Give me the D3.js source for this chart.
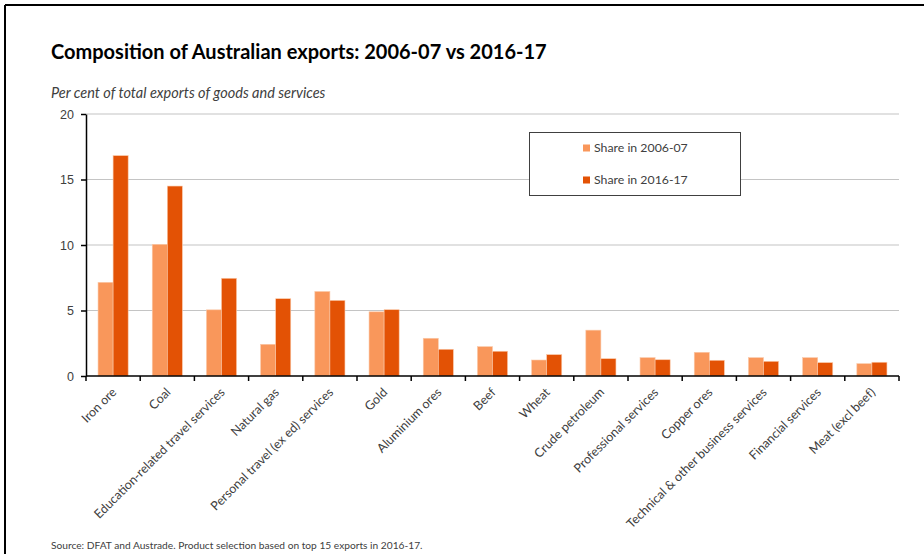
<!DOCTYPE html>
<html>
<head>
<meta charset="utf-8">
<script src="https://cdn.jsdelivr.net/npm/d3@7"></script>
<style>
  html, body { margin: 0; padding: 0; background: #fff; }
  svg { display: block; font-family: Lato, "Open Sans", sans-serif; }
  .grid line { stroke: #c4c4c4; stroke-width: 1.2; }
  .axis path, .axis line { stroke: #000; stroke-width: 1.5; }
  .axis text { fill: #404040; font-size: 12.5px; }
</style>
</head>
<body>
<svg id="chart" width="924" height="554"></svg>
<script>
// categories and shares (% of total exports)
const categories = [
  'Iron ore', 'Coal', 'Education-related travel services', 'Natural gas',
  'Personal travel (ex ed) services', 'Gold', 'Aluminium ores', 'Beef', 'Wheat',
  'Crude petroleum', 'Professional services', 'Copper ores',
  'Technical & other business services', 'Financial services', 'Meat (excl beef)'
];
const share0607 = [7.15, 10.05, 5.05, 2.42, 6.45, 4.9, 2.88, 2.24, 1.22, 3.5, 1.4, 1.81, 1.4, 1.4, 0.94];
const share1617 = [16.82, 14.5, 7.46, 5.9, 5.77, 5.06, 2.04, 1.89, 1.63, 1.32, 1.24, 1.2, 1.12, 1.02, 1.05];
const seriesNames = ['Share in 2006-07', 'Share in 2016-17'];
const seriesColors = ['#f9975b', '#e35205'];
const yTicks = [0, 5, 10, 15, 20];

const svg = d3.select('#chart');

// frame (top + left edges visible in the original)
svg.append('line').attr('x1', 5).attr('x2', 924).attr('y1', 5).attr('y2', 5)
  .attr('stroke', '#000').attr('stroke-width', 2);
svg.append('line').attr('x1', 5).attr('x2', 5).attr('y1', 5).attr('y2', 554)
  .attr('stroke', '#000').attr('stroke-width', 2);

// titles
svg.append('text').attr('x', 51).attr('y', 59)
  .attr('font-size', 20).attr('font-weight', 700).attr('fill', '#000')
  .text('Composition of Australian exports: 2006-07 vs 2016-17');
svg.append('text').attr('x', 51).attr('y', 98)
  .attr('font-size', 14.5).attr('font-style', 'italic').attr('fill', '#404040')
  .text('Per cent of total exports of goods and services');

const plotL = 86, plotR = 899, plotT = 114, plotB = 376;

const x = d3.scaleBand().domain(categories).range([plotL, plotR]).paddingInner(0).paddingOuter(0);
const x1 = d3.scaleBand().domain([0, 1]).range([0, x.bandwidth()]).paddingInner(0).paddingOuter(0.8);
const y = d3.scaleLinear().domain([0, 20]).range([plotB, plotT]);

// gridlines
svg.append('g').attr('class', 'grid')
  .selectAll('line').data(yTicks.filter(d => d > 0)).join('line')
  .attr('x1', plotL).attr('x2', plotR)
  .attr('y1', d => y(d)).attr('y2', d => y(d));

// bars
const rows = categories.map((c, i) => ({ c, vals: [share0607[i], share1617[i]] }));
const groups = svg.append('g').selectAll('g').data(rows).join('g')
  .attr('transform', d => `translate(${x(d.c)},0)`);
groups.selectAll('rect').data(d => d.vals.map((v, k) => ({ v, k }))).join('rect')
  .attr('x', d => x1(d.k))
  .attr('width', x1.bandwidth())
  .attr('y', d => y(d.v))
  .attr('height', d => y(0) - y(d.v))
  .attr('fill', d => seriesColors[d.k])
  .attr('stroke', '#fbc9a8').attr('stroke-width', 0.6);

// y axis
svg.append('g').attr('class', 'axis')
  .attr('transform', `translate(${plotL},0)`)
  .call(d3.axisLeft(y).tickValues(yTicks).tickSize(5).tickSizeOuter(0).tickPadding(7));

// x axis: ticks at band boundaries
const xAxis = svg.append('g').attr('class', 'axis');
xAxis.append('line').attr('x1', plotL).attr('x2', plotR).attr('y1', plotB).attr('y2', plotB);
const bounds = categories.map(c => x(c)).concat([plotR]);
xAxis.selectAll('line.tk').data(bounds).join('line').attr('class', 'tk')
  .attr('x1', d => d).attr('x2', d => d).attr('y1', plotB).attr('y2', plotB + 5);
xAxis.selectAll('text').data(categories).join('text')
  .attr('text-anchor', 'end')
  .attr('transform', d => `translate(${x(d) + x.bandwidth() / 2 + 1},${plotB + 14}) rotate(-45)`)
  .attr('dy', '0.35em')
  .text(d => d);

// legend
const lg = svg.append('g');
lg.append('rect').attr('x', 529.5).attr('y', 132.5).attr('width', 211).attr('height', 63)
  .attr('fill', '#fff').attr('stroke', '#404040').attr('stroke-width', 1);
const ly = d3.scalePoint().domain(seriesNames).range([148, 180]);
seriesNames.forEach((s, k) => {
  lg.append('rect').attr('x', 583).attr('y', ly(s) - 3.5).attr('width', 7).attr('height', 7)
    .attr('fill', seriesColors[k]);
  lg.append('text').attr('x', 594).attr('y', ly(s)).attr('dy', '0.35em')
    .attr('font-size', 12.3).attr('fill', '#404040').text(s);
});

// source note
svg.append('text').attr('x', 51).attr('y', 549)
  .attr('font-size', 10.2).attr('fill', '#404040')
  .text('Source: DFAT and Austrade.  Product selection based on top 15 exports in 2016-17.');
</script>
</body>
</html>
